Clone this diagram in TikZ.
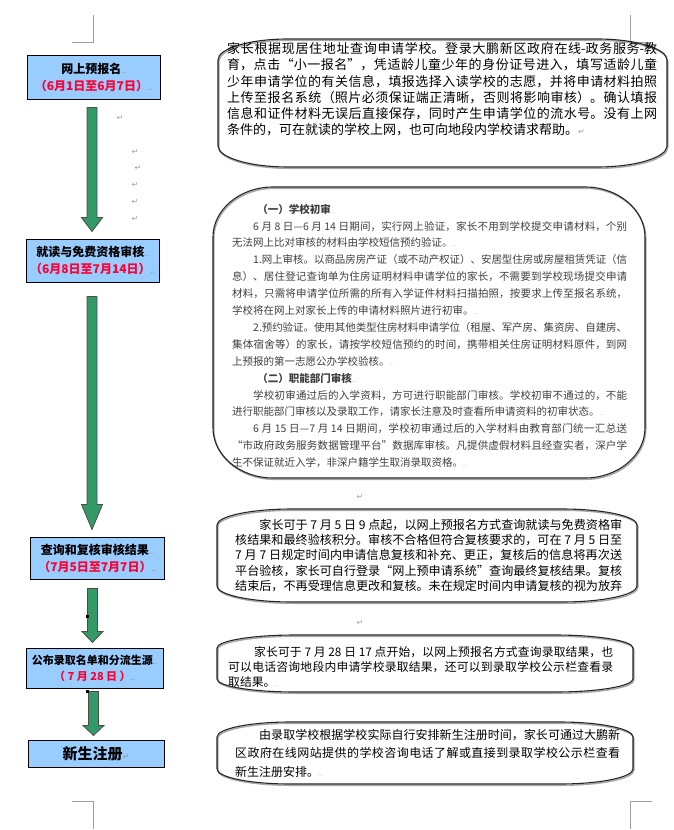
\documentclass[tikz,border=0pt]{standalone}
\usepackage{fontspec}
\setmainfont{Noto Sans CJK SC}
\newfontfamily\symfont{DejaVu Sans}
\usetikzlibrary{calc}
\definecolor{stageblue}{HTML}{99CCFF}
\definecolor{arrowgreen}{HTML}{339966}
\definecolor{datered}{HTML}{FF0033}
\definecolor{markgray}{HTML}{A0A0A0}
\XeTeXlinebreaklocale "zh"
\XeTeXlinebreakskip=0pt plus 1.5pt minus 0.7pt
\setlength{\parindent}{0pt}
\tolerance=9999
\newcommand{\pmark}{{\color{markgray}\fontsize{6}{6}\selectfont ..}}
\newcommand{\rmark}{{\color{markgray}\symfont\fontsize{8}{8}\selectfont ↵}}
%% block arrow from the top point of the shaft to the tip, third argument is the head length
\newcommand{\greenarrow}[3]{%
  \draw[arrowbody] let \p1=(#1), \p2=(#2) in
    (\x2-5pt,\y1) -- (\x2+5pt,\y1) -- (\x2+5pt,\y2+#3) -- (\x2+10.5pt,\y2+#3)
    -- (\x2,\y2) -- (\x2-10.5pt,\y2+#3) -- (\x2-5pt,\y2+#3) -- cycle;}
%% outline with flat elliptic corners: left, top, right, bottom, rx, ry
\newcommand{\ovalpath}[6]{%
  (#1,#2+#6) .. controls (#1,#2+0.45*#6) and (#1+0.45*#5,#2) .. (#1+#5,#2)
    -- (#3-#5,#2) .. controls (#3-0.45*#5,#2) and (#3,#2+0.45*#6) .. (#3,#2+#6)
    -- (#3,#4-#6) .. controls (#3,#4-0.45*#6) and (#3-0.45*#5,#4) .. (#3-#5,#4)
    -- (#1+#5,#4) .. controls (#1+0.45*#5,#4) and (#1,#4-0.45*#6) .. (#1,#4-#6) -- cycle}
\newcommand{\ovalbox}[6]{%
  \draw[calloutshadow] \ovalpath{#1}{#2}{#3}{#4}{#5}{#6};
  \draw[calloutline] \ovalpath{#1}{#2}{#3}{#4}{#5}{#6};}
\tikzset{
  stagebox/.style={draw=black, line width=1pt, fill=stageblue, inner sep=0pt, align=center,
    font=\fontsize{12}{17}\selectfont\bfseries},
  calloutline/.style={draw=black!85, line width=1.1pt},
  calloutshadow/.style={draw=black!35, line width=1.4pt, shift={(0.8,1.3)}},
  callouttext/.style={anchor=north west, inner sep=0pt, align=justify},
  cornermark/.style={draw=markgray, line width=0.8pt},
  arrowbody/.style={draw=black!70, line width=0.8pt, fill=arrowgreen},
  parmark/.style={inner sep=0pt, text=markgray, font=\symfont\fontsize{8}{8}\selectfont},
}

\begin{document}
\begin{tikzpicture}[x=1pt,y=-1pt]
	\fill[white] (0,0) rectangle (673,830);
	\useasboundingbox (0,0) rectangle (673,830);
	%% page corner marks
	\draw[cornermark] (72,42) -- (93,42) -- (93,15);
	\draw[cornermark] (630,15) -- (630,42) -- (652,42);
	\draw[cornermark] (72,801) -- (93,801) -- (93,829);
	\draw[cornermark] (652,801) -- (630,801) -- (630,829);

	%% the five stages on the left
	\node[stagebox, minimum width=133pt, minimum height=44pt] (reg) at (93.5,77)
		{网上预报名\pmark\\ \color{datered}（6月1日至6月7日）\pmark};
	\node[stagebox, minimum width=133pt, minimum height=43pt] (chk) at (92.5,260.5)
		{就读与免费资格审核\pmark\\ \color{datered}（6月8日至7月14日）\pmark};
	\node[stagebox, minimum width=134pt, minimum height=42pt] (rev) at (97,558)
		{查询和复核审核结果\pmark\\ \color{datered}（7月5日至7月7日）\pmark};
	\node[stagebox, minimum width=137pt, minimum height=40pt, font=\fontsize{11}{16}\selectfont\bfseries] (pub) at (94.5,668)
		{公布录取名单和分流生源\pmark\\ \color{datered}（ 7 月 28 日 ）\pmark};
	\node[stagebox, minimum width=136pt, minimum height=27pt, font=\fontsize{15}{18}\selectfont\bfseries] (enr) at (96,753.5)
		{新生注册\rmark};

	%% green arrows between the stages
	\coordinate (a1top) at ($(reg.south)+(0,8)$);
	\coordinate (a1tip) at ($(chk.north)+(-0.5,-7)$);
	\coordinate (a2top) at ($(chk.south)+(0,14)$);
	\coordinate (a2tip) at ($(rev.north)+(-5,-7)$);
	\coordinate (a3top) at ($(rev.south)+(0,9)$);
	\coordinate (a3tip) at ($(pub.north)+(-2,-5)$);
	\coordinate (a4top) at ($(pub.south)+(0,3)$);
	\coordinate (a4tip) at ($(enr.north)+(-2.5,-4)$);
	\greenarrow{a1top}{a1tip}{14pt}
	\greenarrow{a2top}{a2tip}{25pt}
	\greenarrow{a3top}{a3tip}{11pt}
	\greenarrow{a4top}{a4tip}{10pt}
	\fill (86,615) rectangle (89,618);
	\fill (86,690) rectangle (89,693);

	%% loose paragraph marks
	\foreach \x/\y [count=\i] in {120/118,135/152,138/168,135/185,135/202,135/219,360/497,360/623}
		\node[parmark] (ret\i) at (\x,\y) {↵};

	%% callouts on the right
	\ovalbox{218}{39}{667}{167}{70}{21}
	\node[callouttext, text width=430pt, font=\fontsize{13}{16.2}\selectfont] (info) at (227,42.5)
		{家长根据现居住地址查询申请学校。登录大鹏新区政府在线-政务服务-教\linebreak
		育，点击“小一报名”，凭适龄儿童少年的身份证号进入，填写适龄儿童\linebreak
		少年申请学位的有关信息，填报选择入读学校的志愿，并将申请材料拍照\linebreak
		上传至报名系统（照片必须保证端正清晰，否则将影响审核）。确认填报\linebreak
		信息和证件材料无误后直接保存，同时产生申请学位的流水号。没有上网\linebreak
		条件的，可在就读的学校上网，也可向地段内学校请求帮助。\rmark};

	\ovalbox{213}{187}{645}{478}{60}{50}
	\node[callouttext, text width=395pt, text=black!75, font=\fontsize{10.5}{16.9}\selectfont] (audit) at (232,203.8)
		{\hspace*{2.4em}{\bfseries （一）学校初审}\pmark\par
		\hspace*{2em}6 月 8 日—6 月 14 日期间，实行网上验证，家长不用到学校提交申请材料，个别\linebreak
		无法网上比对审核的材料由学校短信预约验证。\pmark\par
		\hspace*{2em}1.网上审核。以商品房房产证（或不动产权证）、安居型住房或房屋租赁凭证（信\linebreak
		息）、居住登记查询单为住房证明材料申请学位的家长，不需要到学校现场提交申请\linebreak
		材料，只需将申请学位所需的所有入学证件材料扫描拍照，按要求上传至报名系统，\linebreak
		学校将在网上对家长上传的申请材料照片进行初审。\pmark\par
		\hspace*{2em}2.预约验证。使用其他类型住房材料申请学位（租屋、军产房、集资房、自建房、\linebreak
		集体宿舍等）的家长，请按学校短信预约的时间，携带相关住房证明材料原件，到网\linebreak
		上预报的第一志愿公办学校验核。\pmark\par
		\hspace*{2.4em}{\bfseries （二）职能部门审核}\pmark\par
		\hspace*{2em}学校初审通过后的入学资料，方可进行职能部门审核。学校初审不通过的，不能\linebreak
		进行职能部门审核以及录取工作，请家长注意及时查看所申请资料的初审状态。\pmark\par
		\hspace*{2em}6 月 15 日—7 月 14 日期间，学校初审通过后的入学材料由教育部门统一汇总送\linebreak
		“市政府政务服务数据管理平台”数据库审核。凡提供虚假材料且经查实者，深户学\linebreak
		生不保证就近入学，非深户籍学生取消录取资格。\pmark};

	\ovalbox{217}{509}{637}{602}{75}{16}
	\node[callouttext, text width=387pt, font=\fontsize{12.1}{15.3}\selectfont] (result) at (235,518.8)
		{\parfillskip=0pt
		\hspace*{2em}家长可于 7 月 5 日 9 点起，以网上预报名方式查询就读与免费资格审\linebreak
		核结果和最终验核积分。审核不合格但符合复核要求的，可在 7 月 5 日至\linebreak
		7 月 7 日规定时间内申请信息复核和补充、更正，复核后的信息将再次送\linebreak
		平台验核，家长可自行登录“网上预申请系统”查询最终复核结果。复核\linebreak
		结束后，不再受理信息更改和复核。未在规定时间内申请复核的视为放弃};

	\ovalbox{217}{635}{633}{692}{78}{13}
	\node[callouttext, text width=385pt, font=\fontsize{11.8}{15}\selectfont] (admit) at (228,646)
		{\hspace*{2.2em}家长可于 7 月 28 日 17 点开始，以网上预报名方式查询录取结果，也\linebreak
		可以电话咨询地段内申请学校录取结果，还可以到录取学校公示栏查看录\linebreak
		取结果。\pmark};

	\ovalbox{217}{722}{633}{784}{73}{15}
	\node[callouttext, text width=385pt, font=\fontsize{12}{18.5}\selectfont] (enrol) at (235,729)
		{\hspace*{2em}由录取学校根据学校实际自行安排新生注册时间，家长可通过大鹏新\linebreak
		区政府在线网站提供的学校咨询电话了解或直接到录取学校公示栏查看\linebreak
		新生注册安排。\pmark};
\end{tikzpicture}
\end{document}
